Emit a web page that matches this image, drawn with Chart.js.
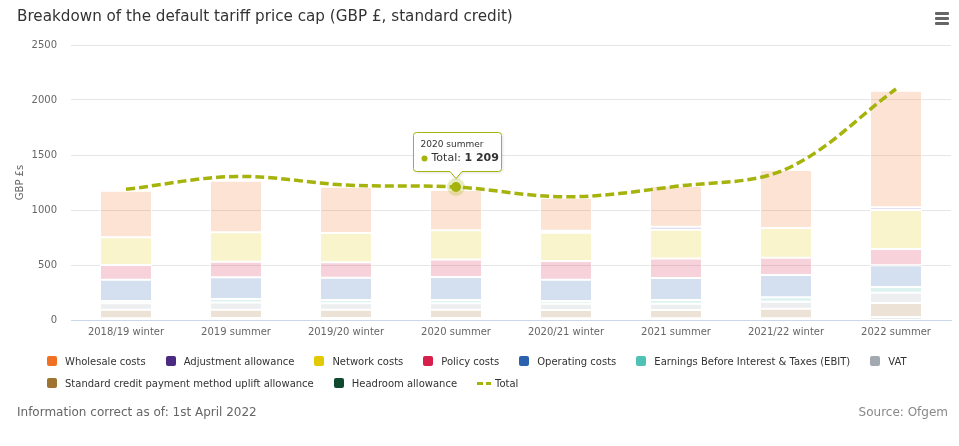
<!DOCTYPE html>
<html>
<head>
<meta charset="utf-8">
<script src="https://cdn.jsdelivr.net/npm/chart.js@4.4.1/dist/chart.umd.min.js"></script>
<style>
  body { margin: 0; background: #fff; font-family: "DejaVu Sans", sans-serif; }
  #wrap { position: relative; width: 959px; height: 446px; overflow: hidden; }
  #chart { position: absolute; left: 0; top: 0; }
  .title { position: absolute; left: 17px; top: 7px; font-size: 15.2px; color: #333; white-space: nowrap; }
  .menu { position: absolute; left: 935px; top: 12px; width: 14px; }
  .menu span { display: block; height: 2.5px; background: #666; border-radius: 1px; margin-bottom: 2.5px; }
  .legend { position: absolute; left: 47px; top: 350px; width: 890px; display: flex; flex-wrap: wrap; font-size: 10px; color: #333; }
  .legend .item { display: flex; align-items: center; height: 22px; margin-right: 20px; white-space: nowrap; }
  .legend .box { width: 10px; height: 10px; border-radius: 2px; margin-right: 8px; }
  .legend .dash { width: 14px; height: 3px; margin-right: 4px;
    background: linear-gradient(to right, #a5b30c 0 6px, transparent 6px 9px, #a5b30c 9px 14px); }
  .foot { position: absolute; top: 405px; font-size: 12px; color: #666; white-space: nowrap; }
</style>
</head>
<body>
<div id="wrap">
  <canvas id="chart" width="959" height="446"></canvas>
  <div class="title">Breakdown of the default tariff price cap (GBP £, standard credit)</div>
  <div class="menu"><span></span><span></span><span></span></div>
  <div class="legend" id="legend"></div>
  <div class="foot" style="left:17px">Information correct as of: 1st April 2022</div>
  <div class="foot" style="right:11px;color:#888">Source: Ofgem</div>
</div>
<script>
// --- Data (GBP £) ---
const categories = ['2018/19 winter', '2019 summer', '2019/20 winter', '2020 summer',
                    '2020/21 winter', '2021 summer', '2021/22 winter', '2022 summer'];

const wholesale   = [424, 470, 421, 367, 300, 370, 528, 1061];
const adjustment  = [0, 0, 0, 0, 18, 27, 0, 24];
const network     = [252, 267, 267, 264, 258, 263, 269, 355];
const policy      = [133, 142, 139, 160, 169, 176, 158, 148];
const operating   = [195, 197, 203, 209, 194, 200, 203, 197];
const ebit        = [20, 33, 30, 30, 25, 34, 39, 52];
const vat         = [59, 64, 58, 58, 57, 58, 64, 93];
const creditUplift = [78, 76, 76, 76, 76, 75, 88, 128];
const headroom    = [15, 18, 18, 18, 15, 15, 15, 27];
const total       = [1188, 1305, 1227, 1209, 1120, 1215, 1372, 2100];

const yTicks = [0, 500, 1000, 1500, 2000, 2500];
const hoverIndex = 3; // "2020 summer" tooltip

// legend order = top of stack first
const series = [
    { name: 'Wholesale costs', data: wholesale, color: '#f07124' },
    { name: 'Adjustment allowance', data: adjustment, color: '#4b2a82' },
    { name: 'Network costs', data: network, color: '#e2c900' },
    { name: 'Policy costs', data: policy, color: '#d81e4a' },
    { name: 'Operating costs', data: operating, color: '#2a62b0' },
    { name: 'Earnings Before Interest & Taxes (EBIT)', data: ebit, color: '#50c2b5' },
    { name: 'VAT', data: vat, color: '#a3a9b0' },
    { name: 'Standard credit payment method uplift allowance', data: creditUplift, color: '#9f7330' },
    { name: 'Headroom allowance', data: headroom, color: '#104a2e' }
];
const lineColor = '#a5b30c';

function fade(hex, a) {
    const n = parseInt(hex.slice(1), 16);
    return `rgba(${n >> 16}, ${(n >> 8) & 255}, ${n & 255}, ${a})`;
}

// --- Legend (HTML) ---
const legendEl = document.getElementById('legend');
series.forEach(s => {
    legendEl.insertAdjacentHTML('beforeend',
        `<div class="item"><div class="box" style="background:${s.color}"></div>${s.name}</div>`);
});
legendEl.insertAdjacentHTML('beforeend', '<div class="item"><div class="dash"></div>Total</div>');

// --- Fixed tooltip on the hovered point ---
const tooltipPlugin = {
    id: 'fixedTooltip',
    afterDatasetsDraw(chart) {
        const idx = chart.data.datasets.findIndex(d => d.type === 'line');
        const pt = chart.getDatasetMeta(idx).data[hoverIndex];
        const ctx = chart.ctx;
        const x = pt.x, y = pt.y;
        ctx.save();
        ctx.fillStyle = fade(lineColor, 0.25);
        ctx.beginPath(); ctx.arc(x, y, 9, 0, Math.PI * 2); ctx.fill();
        ctx.fillStyle = lineColor;
        ctx.beginPath(); ctx.arc(x, y, 5, 0, Math.PI * 2); ctx.fill();

        const w = 88, h = 39, r = 3;
        const bx = Math.round(x - 43) + 0.5, by = Math.round(y - 16 - h) + 0.5;
        ctx.beginPath();
        ctx.moveTo(bx + r, by);
        ctx.lineTo(bx + w - r, by);
        ctx.arcTo(bx + w, by, bx + w, by + r, r);
        ctx.lineTo(bx + w, by + h - r);
        ctx.arcTo(bx + w, by + h, bx + w - r, by + h, r);
        ctx.lineTo(x + 6, by + h);
        ctx.lineTo(x, by + h + 7);
        ctx.lineTo(x - 6, by + h);
        ctx.lineTo(bx + r, by + h);
        ctx.arcTo(bx, by + h, bx, by + h - r, r);
        ctx.lineTo(bx, by + r);
        ctx.arcTo(bx, by, bx + r, by, r);
        ctx.closePath();
        ctx.shadowColor = 'rgba(0,0,0,0.15)';
        ctx.shadowOffsetX = 1; ctx.shadowOffsetY = 1; ctx.shadowBlur = 3;
        ctx.fillStyle = 'rgba(255,255,255,0.96)';
        ctx.fill();
        ctx.shadowColor = 'transparent';
        ctx.strokeStyle = lineColor;
        ctx.lineWidth = 1;
        ctx.stroke();

        ctx.textBaseline = 'middle';
        ctx.fillStyle = '#333';
        ctx.font = '9px "DejaVu Sans"';
        ctx.fillText(categories[hoverIndex], bx + 7, by + 12);
        ctx.fillStyle = lineColor;
        ctx.beginPath(); ctx.arc(bx + 11, by + 26, 3, 0, Math.PI * 2); ctx.fill();
        ctx.fillStyle = '#333';
        ctx.font = '11px "DejaVu Sans"';
        const label = 'Total: ';
        ctx.fillText(label, bx + 18, by + 26);
        const lw = ctx.measureText(label).width;
        ctx.font = 'bold 11px "DejaVu Sans"';
        const v = String(total[hoverIndex]).replace(/\B(?=(\d{3})+(?!\d))/g, ' ');
        ctx.fillText(v, bx + 18 + lw, by + 26);
        ctx.restore();
    }
};

// --- Chart ---
const barSets = series.slice().reverse().map(s => ({
    type: 'bar',
    label: s.name,
    data: s.data,
    backgroundColor: fade(s.color, 0.2),
    borderColor: '#fff',
    borderWidth: 1,
    borderSkipped: false,
    stack: 'parts',
    order: 1,
    barPercentage: 0.473,
    categoryPercentage: 1
}));

const lineSet = {
    type: 'line',
    label: 'Total',
    data: total,
    borderColor: lineColor,
    borderWidth: 3.5,
    borderDash: [9, 4],
    tension: 0.35,
    pointRadius: 0,
    fill: false,
    stack: 'total',
    order: 0
};

const tickFont = { family: 'DejaVu Sans', size: 10 };

new Chart(document.getElementById('chart'), {
    data: { labels: categories, datasets: [...barSets, lineSet] },
    options: {
        responsive: false,
        animation: false,
        events: [],
        layout: { padding: { left: 0, right: 8, top: 45, bottom: 96 } },
        plugins: {
            legend: { display: false },
            tooltip: { enabled: false }
        },
        scales: {
            x: {
                stacked: true,
                grid: { display: false, drawTicks: false },
                border: { color: '#ccd6eb' },
                ticks: { color: '#666', font: tickFont, padding: 6, maxRotation: 0 },
                afterFit: s => { s.height = 30; }
            },
            y: {
                stacked: true,
                min: 0,
                max: 2500,
                grid: { color: '#e6e6e6', drawTicks: false },
                border: { display: false },
                afterBuildTicks: s => { s.ticks = yTicks.map(v => ({ value: v })); },
                ticks: { color: '#666', font: tickFont, padding: 14, callback: v => String(v) },
                title: { display: true, text: 'GBP £s', color: '#666', font: tickFont, padding: { top: 14, bottom: 0 } },
                afterFit: s => { s.width = 71; }
            }
        }
    },
    plugins: [tooltipPlugin]
});
</script>
</body>
</html>
